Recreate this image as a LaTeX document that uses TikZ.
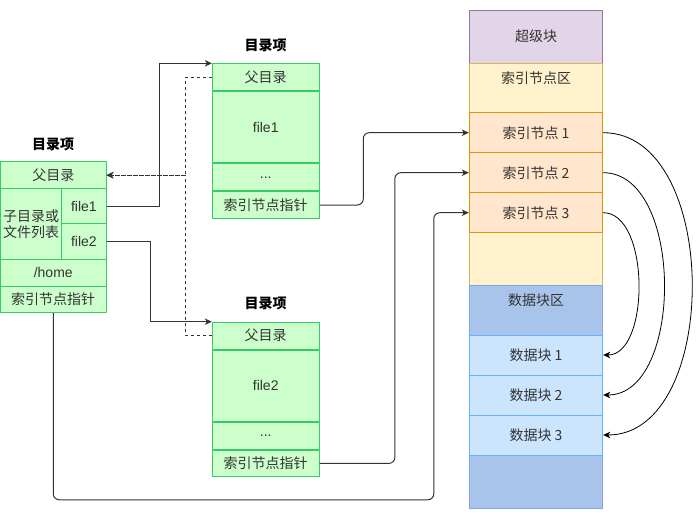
\documentclass[tikz,border=0pt]{standalone}
\usepackage{fontspec}
\setmainfont{Liberation Sans}
\newfontfamily\cjk{Noto Sans CJK SC}
\usetikzlibrary{arrows.meta,positioning}
\definecolor{txt}{HTML}{333333}
\definecolor{cellfill}{HTML}{CCFFCC}
\definecolor{celldraw}{HTML}{33CC66}
\definecolor{sbfill}{HTML}{E1D5E7}
\definecolor{sbdraw}{HTML}{9673A6}
\definecolor{izfill}{HTML}{FFF2CC}
\definecolor{izdraw}{HTML}{D6B656}
\definecolor{infill}{HTML}{FFE6CC}
\definecolor{indraw}{HTML}{D79B00}
\definecolor{dzfill}{HTML}{A9C4EB}
\definecolor{dzdraw}{HTML}{7EA6E0}
\definecolor{dbfill}{HTML}{CCE5FF}
\definecolor{dbdraw}{HTML}{66B2FF}
\begin{document}
\begin{tikzpicture}[x=1pt, y=-1pt, font=\fontsize{14}{16.5}\selectfont, line join=round,
  >={Stealth[length=7pt,width=6.5pt,inset=2pt]},
  cell/.style={draw=celldraw, fill=cellfill, line width=1pt, text=txt, inner sep=0pt},
  title/.style={text=black, font=\fontsize{14}{16.5}\selectfont\bfseries},
  zone/.style={line width=1pt, text=txt, inner sep=0pt, minimum width=133.4pt},
  arr/.style={->, draw=txt, line width=1pt},
  back/.style={->, draw=txt, line width=1pt, dash pattern=on 3pt off 3pt}]
\useasboundingbox (0,0) rectangle (697,531);
% left directory entry
\node[title] (ltitle) at (53,144) {\cjk 目录项};
\node[cell, minimum width=105.5pt, minimum height=27pt] (lparent) at (53.25,175.2) {\cjk 父目录};
\node[cell, minimum width=61.2pt, minimum height=70.6pt, align=center] (llist) at (31.1,224) {\cjk 子目录或\\\cjk 文件列表};
\node[cell, minimum width=44.3pt, minimum height=35pt] (lf1) at (83.85,206.2) {file1};
\node[cell, minimum width=44.3pt, minimum height=35.6pt] (lf2) at (83.85,241.5) {file2};
\node[cell, minimum width=105.5pt, minimum height=26.7pt] (lhome) at (53.25,272.65) {/home};
\node[cell, minimum width=105.5pt, minimum height=26.7pt] (lptr) at (53.25,299.35) {\cjk 索引节点指针};
% directory entries of file1 and file2
\foreach \p/\f/\y in {a/file1/63.3, b/file2/321.7}{
\node[title] (\p title) at (265.7,\y-18) {\cjk 目录项};
\node[cell, minimum width=106.7pt, minimum height=27pt, anchor=north] (\p parent) at (265.7,\y) {\cjk 父目录};
\node[cell, minimum width=106.7pt, minimum height=71pt, anchor=north] (\p file) at (\p parent.south) {\f};
\node[cell, minimum width=106.7pt, minimum height=27pt, anchor=north] (\p dots) at (\p file.south) {...};
\node[cell, minimum width=106.7pt, minimum height=26.4pt, anchor=north] (\p ptr) at (\p dots.south) {\cjk 索引节点指针};
}
% disk layout
\node[zone, draw=sbdraw, fill=sbfill, minimum height=53.3pt] (super) at (536,36.65) {\cjk 超级块};
\node[zone, draw=izdraw, fill=izfill, minimum height=222.4pt,
  label={[anchor=north, yshift=-5pt, text=txt]north:{\cjk 索引节点区}}] (izone) at (536,174.5) {};
\node[zone, draw=dzdraw, fill=dzfill, minimum height=222.6pt,
  label={[anchor=north, yshift=-5pt, text=txt]north:{\cjk 数据块区}}] (dzone) at (536,397) {};
\foreach \n/\y in {1/132.7, 2/172.7, 3/212.7}
\node[zone, draw=indraw, fill=infill, minimum height=40pt] (i\n) at (536,\y) {\cjk 索引节点 \n};
\foreach \n/\y in {1/355, 2/395, 3/435}
\node[zone, draw=dbdraw, fill=dbfill, minimum height=40pt] (d\n) at (536,\y) {\cjk 数据块 \n};
% links between entries
\draw[arr] (lf1.east) -- ++(53,0) |- (aparent.north west);
\draw[arr] (lf2.east) -- ++(44,0) |- (bparent.north west);
\draw[back] (aparent.west) -- ++(-26.6,0) |- (lparent.east);
\draw[back] (bparent.west) -- ++(-26.6,0) |- (lparent.east);
% inode pointers
\draw[arr, rounded corners=6pt] (aptr.east) -- ++(43.7,0) |- (i1.west);
\draw[arr, rounded corners=6pt] (bptr.east) -- ++(75.3,0) |- (i2.west);
\draw[arr, rounded corners=6pt] (lptr.south) -- ++(0,186.6) -| ([xshift=-35pt]i3.west) -- (i3.west);
% inodes to data blocks
\foreach \a/\b/\d in {1/3/118, 2/2/81, 3/1/47}
\draw[->, draw=black, line width=0.8pt] (i\a.east) .. controls ([xshift=\d pt]i\a.east) and ([xshift=\d pt]d\b.east) .. (d\b.east);
\end{tikzpicture}
\end{document}
